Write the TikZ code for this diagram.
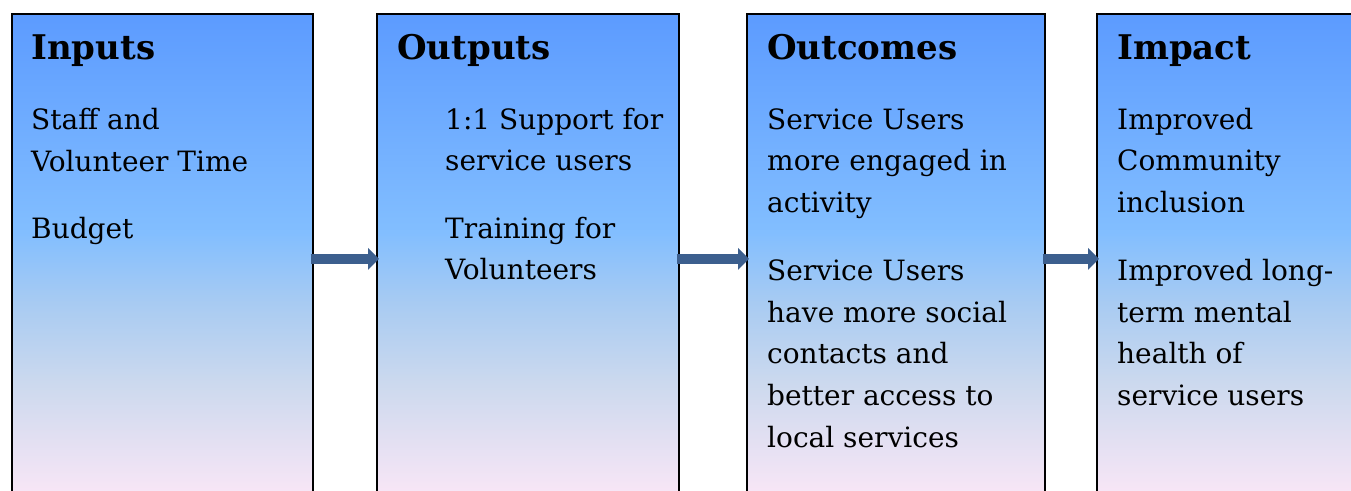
\documentclass[tikz,border=0pt]{standalone}
\usepackage{fontspec}
\setmainfont{DejaVu Serif}

\definecolor{gradtop}{RGB}{92,155,255}
\definecolor{gradsky}{RGB}{130,190,255}
\definecolor{gradpale}{RGB}{168,203,242}
\definecolor{gradmist}{RGB}{204,217,238}
\definecolor{gradpink}{RGB}{248,230,246}
\definecolor{gradbottom}{RGB}{250,232,247}
\definecolor{arrowblue}{RGB}{60,95,142}

% vertical fade from blue at the top to pale pink at the bottom
\pgfdeclareverticalshading{boxfade}{100bp}{
  color(0bp)=(gradbottom);
  color(25bp)=(gradbottom);
  color(26bp)=(gradpink);
  color(37.3bp)=(gradmist);
  color(45.5bp)=(gradpale);
  color(52.7bp)=(gradsky);
  color(75bp)=(gradtop);
  color(100bp)=(gradtop)}

\tikzset{
  stagebox/.style={draw=black, line width=1.6pt, shading=boxfade,
    anchor=north west, minimum height=490pt, inner sep=0pt},
  stagetitle/.style={anchor=base west, inner sep=0pt,
    font=\fontsize{34}{40}\selectfont\bfseries},
  stagetext/.style={anchor=base west, inner sep=0pt,
    font=\fontsize{28}{41}\selectfont},
  flowshaft/.style={draw=arrowblue, line width=10pt},
  flowhead/.style={fill=arrowblue}
}

% block arrow from the east side of #1 to the west side of #2
\newcommand{\stageflow}[2]{%
  \draw[flowshaft] ([xshift=-3pt]#1.east) -- ([xshift=-8pt]#2.west);
  \fill[flowhead] ([xshift=3pt]#2.west) -- ++(-11,-11) -- ++(0,22) -- cycle;}

\begin{document}
\begin{tikzpicture}[x=1pt,y=-1pt]
\useasboundingbox (0,0) rectangle (1351,490);
\clip (0,0) rectangle (1351,490);

% the four stages
\node[stagebox, minimum width=301pt] (inputs)   at (11,13)   {};
\node[stagebox, minimum width=302pt] (outputs)  at (376,13)  {};
\node[stagebox, minimum width=298pt] (outcomes) at (746,13)  {};
\node[stagebox, minimum width=302pt] (impact)   at (1096,13) {};

% connectors between the stages
\stageflow{inputs}{outputs}
\stageflow{outputs}{outcomes}
\stageflow{outcomes}{impact}

% Inputs
\node[stagetitle] (t1) at (31,59) {Inputs};
\node[stagetext] (a1) at (31,129) {Staff and};
\node[stagetext] (a2) at (31,171) {Volunteer Time};
\node[stagetext] (a3) at (31,238) {Budget};

% Outputs
\node[stagetitle] (t2) at (397,59) {Outputs};
\node[stagetext] (b1) at (445,129) {1:1 Support for};
\node[stagetext] (b2) at (445,170) {service users};
\node[stagetext] (b3) at (445,238) {Training for};
\node[stagetext] (b4) at (445,279) {Volunteers};

% Outcomes
\node[stagetitle] (t3) at (767,59) {Outcomes};
\node[stagetext] (c1) at (767,129) {Service Users};
\node[stagetext] (c2) at (767,170) {more engaged in};
\node[stagetext] (c3) at (767,212) {activity};
\node[stagetext] (c4) at (767,280) {Service Users};
\node[stagetext] (c5) at (767,322) {have more social};
\node[stagetext] (c6) at (767,363) {contacts and};
\node[stagetext] (c7) at (767,405) {better access to};
\node[stagetext] (c8) at (767,447) {local services};

% Impact
\node[stagetitle] (t4) at (1117,59) {Impact};
\node[stagetext] (d1) at (1117,129) {Improved};
\node[stagetext] (d2) at (1117,170) {Community};
\node[stagetext] (d3) at (1117,212) {inclusion};
\node[stagetext] (d4) at (1117,280) {Improved long-};
\node[stagetext] (d5) at (1117,322) {term mental};
\node[stagetext] (d6) at (1117,363) {health of};
\node[stagetext] (d7) at (1117,405) {service users};
\end{tikzpicture}
\end{document}
